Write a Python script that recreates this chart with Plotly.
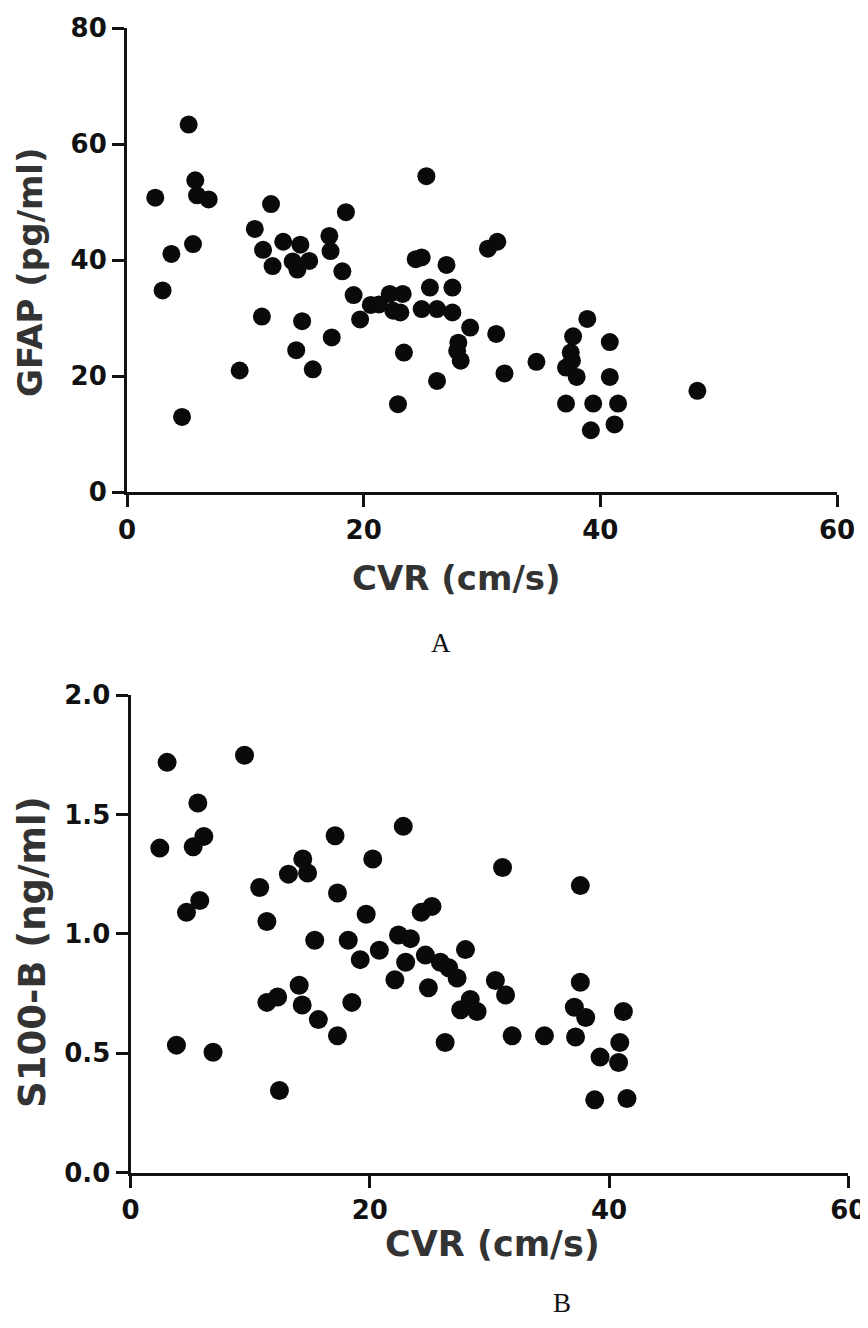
import plotly.graph_objects as go

OFF = 8  # page body margin that offsets the figure in the browser
W, H = 868 - OFF, 1328 - 2 * OFF

# Panel A: GFAP vs CVR
gfap_cvr = [2.39, 5.21, 5.77, 5.92, 6.9, 3.75, 5.58, 3.01, 4.65, 9.52,
            12.17, 10.8, 11.5, 12.3, 13.2, 14.65, 14.0, 14.4, 15.4, 11.4,
            14.8, 14.3, 15.7, 17.3, 17.1, 17.2, 18.5, 18.2, 19.15, 19.7,
            20.6, 21.3, 22.2, 23.3, 22.5, 23.1, 23.4, 22.9, 25.3, 24.4,
            24.9, 27.0, 25.6, 27.5, 24.9, 26.2, 27.5, 29.0, 28.0, 27.9,
            28.2, 26.2, 30.5, 31.3, 31.2, 31.9, 34.6, 38.9, 37.7, 37.5,
            37.6, 37.1, 38.0, 40.8, 40.8, 37.1, 39.4, 41.5, 39.2, 41.2,
            48.2]
gfap_val = [50.8, 63.4, 53.8, 51.2, 50.5, 41.1, 42.8, 34.8, 13.0, 21.0,
            49.7, 45.4, 41.8, 39.0, 43.2, 42.7, 39.8, 38.4, 39.9, 30.3,
            29.5, 24.5, 21.2, 26.7, 44.2, 41.6, 48.3, 38.1, 34.0, 29.8,
            32.3, 32.4, 34.2, 34.2, 31.3, 31.0, 24.1, 15.2, 54.5, 40.2,
            40.5, 39.2, 35.3, 35.3, 31.6, 31.6, 31.0, 28.4, 25.8, 24.4,
            22.7, 19.2, 42.0, 43.2, 27.3, 20.5, 22.5, 29.9, 26.9, 24.1,
            22.7, 21.5, 19.9, 25.9, 19.9, 15.3, 15.3, 15.3, 10.7, 11.7,
            17.5]

# Panel B: S100-B vs CVR
s100_cvr = [3.06, 9.53, 2.45, 5.63, 5.24, 6.13, 4.68, 5.79, 3.84, 6.9,
            12.45, 10.8, 11.4, 11.4, 12.3, 13.2, 14.4, 14.8, 14.1, 14.35,
            15.4, 15.7, 17.3, 17.1, 17.3, 18.5, 18.2, 19.2, 19.7, 20.25,
            20.8, 22.8, 22.1, 22.4, 23.4, 23.0, 24.9, 26.3, 24.3, 25.2,
            24.65, 25.9, 26.6, 27.3, 28.0, 27.6, 28.4, 28.97,
            31.1, 30.5, 31.35, 31.9, 34.6, 37.6, 37.6, 37.1, 38.05, 37.2,
            41.2, 40.9, 39.25, 40.8, 38.8, 41.5]
s100_val = [1.718, 1.748, 1.359, 1.548, 1.365, 1.408, 1.090, 1.140, 0.534, 0.504,
            0.344, 1.194, 1.052, 0.713, 0.736, 1.250, 1.313, 1.255, 0.785, 0.702,
            0.973, 0.641, 0.573, 1.411, 1.171, 0.713, 0.973, 0.892, 1.082, 1.313,
            0.931, 1.450, 0.808, 0.995, 0.980, 0.881, 0.774, 0.545, 1.090, 1.115,
            0.911, 0.881, 0.858, 0.815, 0.934, 0.682, 0.725, 0.675,
            1.278, 0.805, 0.744, 0.573, 0.573, 1.202, 0.797, 0.693, 0.650, 0.568,
            0.675, 0.545, 0.484, 0.461, 0.305, 0.311]

x_ticks = [0, 20, 40, 60]
gfap_ticks = [0, 20, 40, 60, 80]
s100_ticks = [0.0, 0.5, 1.0, 1.5, 2.0]
s100_ticktext = ["0.0", "0.5", "1.0", "1.5", "2.0"]


def px_x(v):
    return (v - OFF) / W


def px_y(v):
    return 1 - (v - OFF) / H


fig = go.Figure()
fig.add_trace(go.Scatter(x=gfap_cvr, y=gfap_val, mode="markers",
                         marker=dict(size=18, color="#0a0a0a"),
                         xaxis="x", yaxis="y", cliponaxis=False,
                         showlegend=False))
fig.add_trace(go.Scatter(x=s100_cvr, y=s100_val, mode="markers",
                         marker=dict(size=19, color="#0a0a0a"),
                         xaxis="x2", yaxis="y2", cliponaxis=False,
                         showlegend=False))

tick_font = dict(family="DejaVu Sans", size=26, color="#111111", weight="bold")
axis_common = dict(showline=True, linewidth=3, linecolor="#111111",
                   ticks="outside", ticklen=12, tickwidth=3, tickcolor="#111111",
                   showgrid=False, zeroline=False, tickfont=tick_font,
                   fixedrange=True, automargin=False)

fig.update_layout(
    width=W, height=H,
    margin=dict(l=0, r=0, t=0, b=0, autoexpand=False),
    paper_bgcolor="white", plot_bgcolor="white",
    xaxis=dict(domain=[px_x(127), px_x(837)], range=[0, 60], anchor="y",
               tickvals=x_ticks, **axis_common),
    yaxis=dict(domain=[px_y(492.3), px_y(28.3)], range=[0, 80], anchor="x",
               tickvals=gfap_ticks, **axis_common),
    xaxis2=dict(domain=[px_x(130.5), px_x(848.3)], range=[0, 60], anchor="y2",
                tickvals=x_ticks, **axis_common),
    yaxis2=dict(domain=[px_y(1172.7), px_y(695)], range=[0, 2.0], anchor="x2",
                tickvals=s100_ticks, ticktext=s100_ticktext, **axis_common),
)

title_font = dict(family="DejaVu Sans", size=34, color="#333333", weight="bold")
title_font_b = dict(family="DejaVu Sans", size=35, color="#333333", weight="bold")
ytitle_font_b = dict(family="DejaVu Sans", size=37, color="#333333", weight="bold")
label_font = dict(family="Liberation Serif", size=27, color="#111111")

annotations = [
    dict(text="CVR (cm/s)", x=px_x(456), y=px_y(578), font=title_font),
    dict(text="GFAP (pg/ml)", x=px_x(30), y=px_y(272), font=title_font, textangle=-90),
    dict(text="A", x=px_x(441), y=px_y(643), font=label_font),
    dict(text="CVR (cm/s)", x=px_x(492), y=px_y(1244), font=title_font_b),
    dict(text="S100-B (ng/ml)", x=px_x(32), y=px_y(952), font=ytitle_font_b, textangle=-90),
    dict(text="B", x=px_x(562), y=px_y(1303), font=label_font),
]
for a in annotations:
    a.update(xref="paper", yref="paper", xanchor="center", yanchor="middle",
             showarrow=False)
fig.update_layout(annotations=annotations)

fig.write_html("out.html",
               post_script="document.documentElement.style.overflow='hidden';")
